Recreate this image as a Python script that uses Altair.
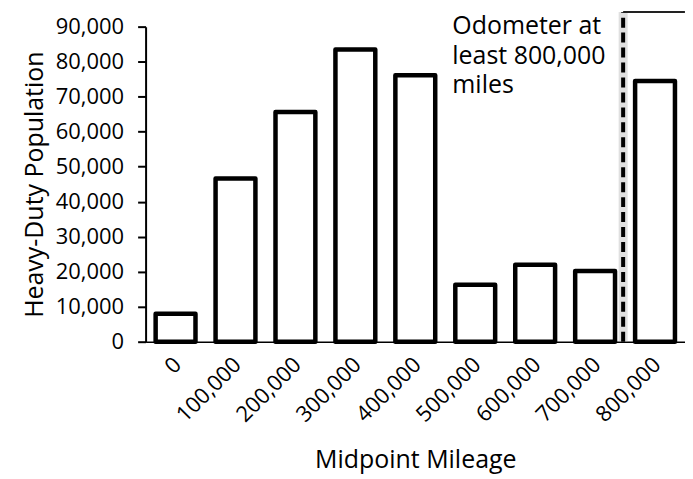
import altair as alt
import pandas as pd

categories = ["0", "100,000", "200,000", "300,000", "400,000",
              "500,000", "600,000", "700,000", "800,000"]
population = [8000, 46600, 65600, 83500, 76100, 16300, 22000, 20200, 74500]
y_ticks = [0, 10000, 20000, 30000, 40000, 50000, 60000, 70000, 80000, 90000]

marker_category = ["800,000"]
marker_top = [94200]
note_category = ["500,000"]
note_y = [88000]
note_text = ["Odometer at\nleast 800,000\nmiles"]

FONT = "Open Sans"

df = pd.DataFrame({"mileage": categories, "pop": population})
mk = pd.DataFrame({"mileage": marker_category, "y0": [0], "y1": marker_top})
note = pd.DataFrame({"mileage": note_category, "y": note_y, "label": note_text})

xscale = alt.Scale(domain=categories, paddingInner=0.335, paddingOuter=0.1675)
yscale = alt.Scale(domain=[0, 90000], nice=False, zero=True)

xaxis = alt.Axis(title="Midpoint Mileage", labelAngle=-45, ticks=False,
                 labelFontSize=22, labelFont=FONT, labelColor="black",
                 labelPadding=12, labelOffset=-5, labelOverlap=False,
                 titleFont=FONT, titleFontSize=25,
                 titleFontWeight="normal", titleColor="black",
                 titlePadding=22, domainColor="black", domainWidth=1.5)
yaxis = alt.Axis(title="Heavy-Duty Population", values=y_ticks,
                 format=",.0f", grid=False, tickSize=8, tickWidth=2, tickColor="black",
                 labelFontSize=22, labelFont=FONT, labelColor="black",
                 labelPadding=14, labelOverlap=False, titleFont=FONT, titleFontSize=25,
                 titleFontWeight="normal", titleColor="black",
                 titlePadding=8, domainColor="black", domainWidth=2)


def X(**kw):
    return alt.X("mileage:N", sort=categories, scale=xscale, axis=xaxis, **kw)


bars = alt.Chart(df).mark_bar(
    fill="white", stroke="black", strokeWidth=4.5, strokeJoin="round"
).encode(
    x=X(),
    y=alt.Y("pop:Q", scale=yscale, axis=yaxis),
)

halo = alt.Chart(mk).mark_rule(color="#999999", strokeWidth=9, opacity=0.3, xOffset=-12).encode(
    x=X(bandPosition=0),
    y=alt.Y("y0:Q", scale=yscale, axis=yaxis),
    y2="y1:Q",
)

dashed = alt.Chart(mk).mark_rule(color="black", strokeWidth=4, strokeDash=[10, 5], xOffset=-12).encode(
    x=X(bandPosition=0),
    y=alt.Y("y0:Q", scale=yscale, axis=yaxis),
    y2="y1:Q",
)

top_line = alt.Chart(mk).mark_rule(color="#222222", strokeWidth=2, xOffset=-12, x2Offset=10).encode(
    x=X(bandPosition=0),
    x2=alt.X2("mileage:N", bandPosition=1),
    y=alt.Y("y1:Q", scale=yscale, axis=yaxis),
)

text = alt.Chart(note).mark_text(
    align="left", baseline="alphabetic", fontSize=25, lineHeight=30,
    font=FONT, color="black", lineBreak="\n", xOffset=-3
).encode(
    x=X(bandPosition=0),
    y=alt.Y("y:Q", scale=yscale, axis=yaxis),
    text="label:N",
)

chart = alt.layer(bars, halo, dashed, top_line, text).properties(
    width=541, height=316,
    autosize=alt.AutoSizeParams(type="none"),
    padding={"left": 138, "top": 18, "right": 0, "bottom": 134},
).configure_view(stroke=None)

chart.save("out.html", embed_options={"renderer": "svg", "actions": False})
